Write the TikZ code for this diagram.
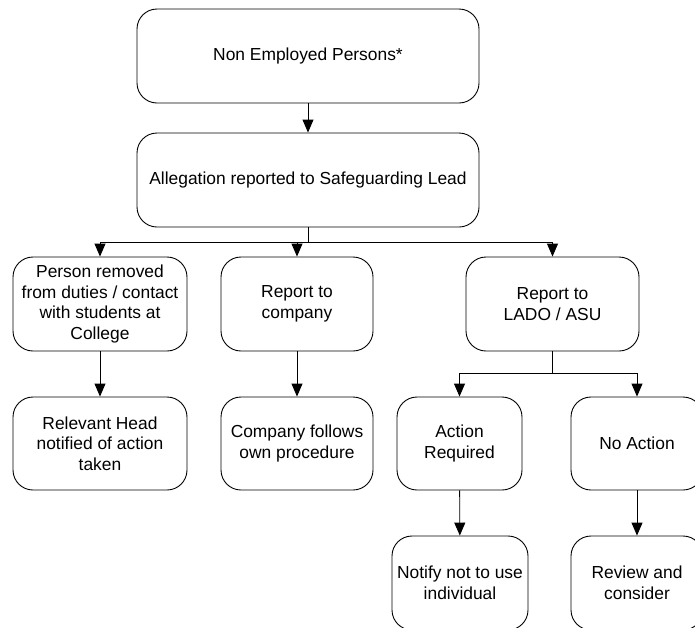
\documentclass[tikz,border=0pt]{standalone}
\usepackage{fontspec}
\setmainfont{Liberation Sans}
\usetikzlibrary{arrows.meta}
\begin{document}
\begin{tikzpicture}[x=1pt,y=-1pt,
  box/.style={draw=black, line width=0.9pt, rounded corners=20pt, align=center,
    inner sep=0pt, font=\fontsize{17.4}{20.5}\selectfont},
  conn/.style={draw=black, line width=0.9pt},
  arr/.style={conn, -{Triangle[width=11pt,length=13pt]}}]
\useasboundingbox (0,0) rectangle (695,627);
\node[box, minimum width=342pt, minimum height=94pt] (b1) at (308,56) {Non Employed Persons*};
\node[box, minimum width=342pt, minimum height=94pt] (b2) at (308,180) {Allegation reported to Safeguarding Lead};
\node[box, minimum width=174pt, minimum height=94pt] (b3) at (100,304) {Person removed\\from duties / contact\\with students at\\College};
\node[box, minimum width=152pt, minimum height=94pt] (b4) at (297,304) {Report to\\company};
\node[box, minimum width=173pt, minimum height=94pt] (b5) at (552.5,304) {Report to\\LADO / ASU};
\node[box, minimum width=174pt, minimum height=93pt] (b6) at (100,443.5) {Relevant Head\\notified of action\\taken};
\node[box, minimum width=152pt, minimum height=93pt] (b7) at (297,443.5) {Company follows\\own procedure};
\node[box, minimum width=125pt, minimum height=93pt] (b8) at (459.5,443.5) {Action\\Required};
\node[box, minimum width=132pt, minimum height=93pt] (b9) at (637,443.5) {No Action};
\node[box, minimum width=136pt, minimum height=94pt] (b10) at (460,583) {Notify not to use\\individual};
\node[box, minimum width=132pt, minimum height=94pt] (b11) at (637,583) {Review and\\consider};
% connectors
\draw[arr] (b1) -- (b2);
\coordinate (j1) at (308,242);
\draw[conn] (b2.south) -- (j1);
\draw[arr] (j1) -| (b3.north);
\draw[arr] (j1) -| (b4.north);
\draw[arr] (j1) -| (b5.north);
\draw[arr] (b3) -- (b6);
\draw[arr] (b4) -- (b7);
\coordinate (j2) at (552.5,373);
\draw[conn] (b5.south) -- (j2);
\draw[arr] (j2) -| (b8.north);
\draw[arr] (j2) -| (b9.north);
\draw[arr] (b8) -- (b10);
\draw[arr] (b9) -- (b11);
\end{tikzpicture}
\end{document}
